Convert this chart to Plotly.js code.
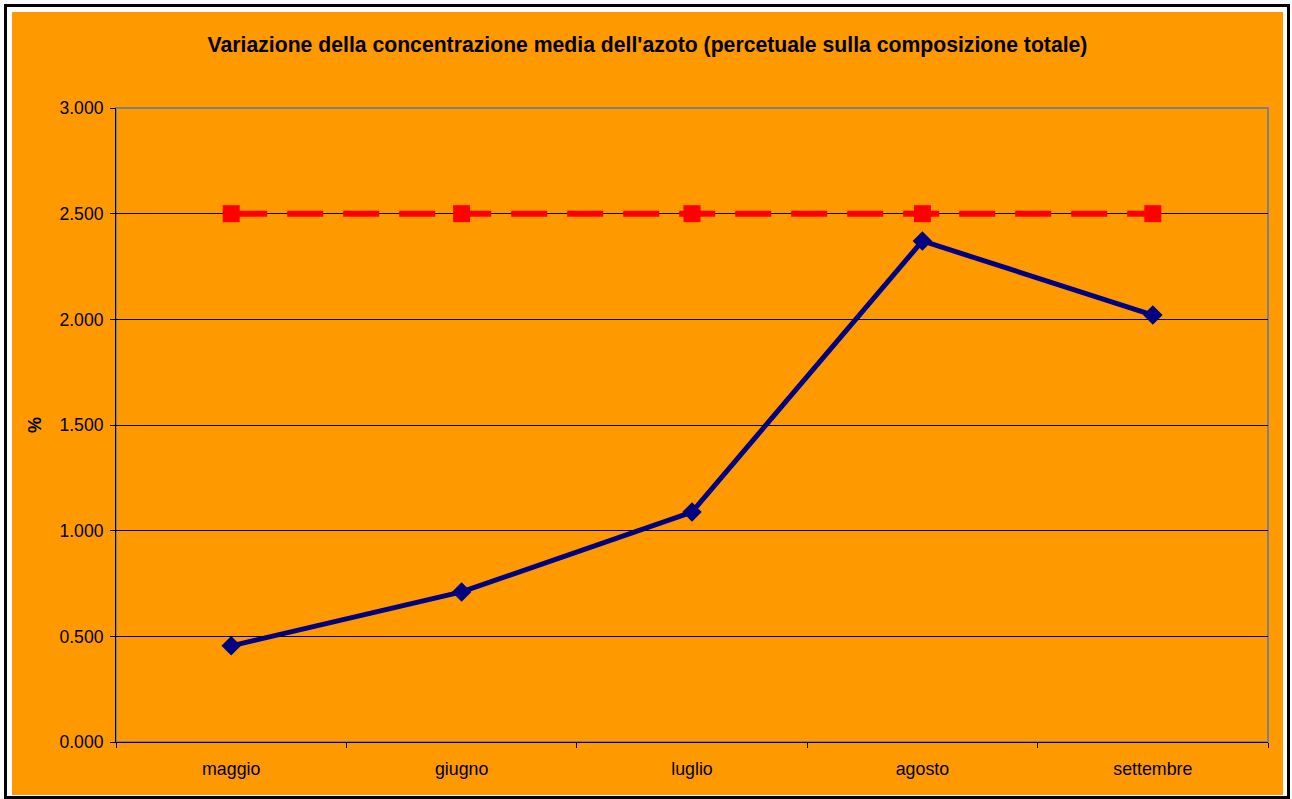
<!DOCTYPE html>
<html>
<head>
<meta charset="utf-8">
<script src="https://cdn.plot.ly/plotly-3.0.1.min.js"></script>
<style>
  html, body { margin: 0; padding: 0; background: #ffffff; width: 1292px; height: 799px; overflow: hidden; }
  #frame { position: absolute; left: 4px; top: 4px; width: 1280px; height: 789px; border: 3px solid #000000; background: #ffffff; }
  #chart { position: absolute; left: 12px; top: 12px; width: 1271px; height: 783px; }
</style>
</head>
<body>
<div id="frame"></div>
<div id="chart"></div>
<script>
const months = ["maggio", "giugno", "luglio", "agosto", "settembre"];
const azotoMedio = [0.455, 0.71, 1.088, 2.371, 2.02];
const soglia = [2.5, 2.5, 2.5, 2.5, 2.5];
const yTicks = [0, 0.5, 1, 1.5, 2, 2.5, 3];

const traces = [
  {
    x: months, y: soglia, type: "scatter", mode: "lines+markers",
    line: { color: "#FF0000", width: 6, dash: "36px,20px" },
    marker: { symbol: "square", size: 17, color: "#FF0000" },
    hoverinfo: "x+y"
  },
  {
    x: months, y: azotoMedio, type: "scatter", mode: "lines+markers",
    line: { color: "#000080", width: 5 },
    marker: { symbol: "diamond", size: 15, color: "#000080" },
    hoverinfo: "x+y"
  }
];

const layout = {
  width: 1271, height: 783,
  paper_bgcolor: "#FF9900", plot_bgcolor: "#FF9900",
  margin: { l: 104, r: 15, t: 96, b: 53 },
  showlegend: false,
  font: { family: "Liberation Sans, Arial, sans-serif", color: "#000000", size: 17.8 },
  title: {
    text: "<b>Variazione della concentrazione media dell'azoto (percetuale sulla composizione totale)</b>",
    font: { size: 21.2, family: "Liberation Sans, Arial, sans-serif", color: "#000000" },
    x: 0.5, xanchor: "center", xref: "container",
    y: 1 - 33 / 783, yanchor: "middle", yref: "container"
  },
  xaxis: {
    type: "category", range: [-0.5, 4.5],
    tickson: "boundaries", ticks: "outside", ticklen: 5, tickcolor: "#000000", tickwidth: 1,
    showline: true, linecolor: "#000000", linewidth: 1,
    showgrid: false, zeroline: false, fixedrange: true,
    tickfont: { size: 17.8 }, ticklabelstandoff: 11
  },
  yaxis: {
    range: [0, 3], tickvals: yTicks, tickformat: ".3f",
    ticks: "outside", ticklen: 5, tickcolor: "#000000", tickwidth: 1,
    showline: true, linecolor: "#000000", linewidth: 1,
    showgrid: true, gridcolor: "#000000", gridwidth: 1,
    zeroline: false, fixedrange: true,
    tickfont: { size: 17.6 }, ticklabelstandoff: 3,
    title: { text: "<b>%</b>", font: { size: 18 }, standoff: 13 }
  },
  shapes: [
    { type: "rect", xref: "paper", yref: "paper", x0: 0, x1: 1, y0: 0, y1: 1,
      line: { color: "#808080", width: 2 }, layer: "below" }
  ]
};

Plotly.newPlot("chart", traces, layout, { displayModeBar: false, staticPlot: true });
</script>
</body>
</html>
